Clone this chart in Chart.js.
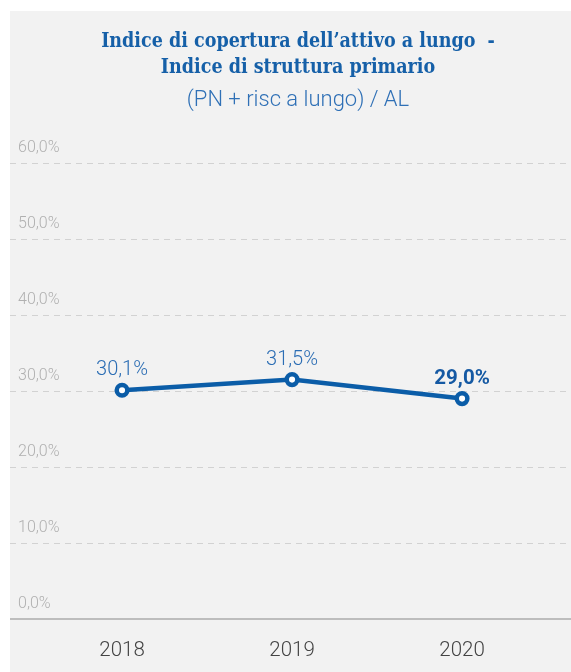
<!DOCTYPE html>
<html>
<head>
<meta charset="utf-8">
<script src="https://cdn.jsdelivr.net/npm/chart.js@4.4.1/dist/chart.umd.min.js"></script>
<style>
  html, body { margin: 0; padding: 0; background: #fff; overflow: hidden; }
  #box {
    position: absolute; left: 10px; top: 11px;
    width: 576px; height: 661px;
    background: #f2f2f2;
  }
</style>
</head>
<body>
<div id="box"><canvas id="myChart" width="576" height="661"></canvas></div>
<script>
const anni = ['2018', '2019', '2020'];
const indice = [30.1, 31.5, 29.0];
const boldLabel = [false, false, true];

const blu = '#0b5da8';

function fmtPerc(v) {
    return v.toFixed(1).replace('.', ',') + '%';
}

// etichette dei valori sopra ai punti
const valueLabels = {
    id: 'valueLabels',
    afterDatasetsDraw(chart) {
        const c = chart.ctx;
        const meta = chart.getDatasetMeta(0);
        c.save();
        c.textAlign = 'center';
        c.textBaseline = 'alphabetic';
        meta.data.forEach((pt, i) => {
            if (boldLabel[i]) {
                c.font = 'bold 20.5px Roboto';
                c.fillStyle = '#1559a3';
            } else {
                c.font = '300 20px Roboto';
                c.fillStyle = '#2b6db4';
            }
            c.fillText(fmtPerc(indice[i]), pt.x, pt.y - 15);
        });
        c.restore();
    }
};

const ctx = document.getElementById('myChart');

theChart = new Chart(ctx, {
    type: 'line',
    data: {
        datasets: [{
            label: 'indice',
            data: indice.map((v, i) => ({x: i, y: v})),
            borderColor: blu,
            borderWidth: 4.5,
            pointRadius: 5.3,
            pointBorderWidth: 4.5,
            pointBackgroundColor: '#ffffff',
            pointBorderColor: blu,
            tension: 0
        }]
    },
    options: {
        responsive: false,
        animation: false,
        layout: { autoPadding: false, padding: { left: 0, right: 0, top: 0, bottom: -11 } },
        plugins: {
            legend: { display: false },
            tooltip: { enabled: false },
            title: {
                display: true,
                text: ['Indice di copertura dell\u2019attivo a lungo  -', 'Indice di struttura primario'],
                color: '#1660a8',
                font: { family: "'DejaVu Serif Condensed', 'DejaVu Serif', serif", size: 19.5, weight: 'bold', lineHeight: '26px' },
                padding: { top: 18, bottom: 5 }
            },
            subtitle: {
                display: true,
                text: '(PN + risc a lungo) / AL',
                color: '#2f70b6',
                font: { family: 'Roboto', size: 22, weight: '300', lineHeight: '28px' },
                padding: { top: 0, bottom: 49 }
            }
        },
        scales: {
            x: {
                type: 'linear',
                min: -0.659,
                max: 2.729,
                afterBuildTicks: (scale) => {
                    scale.ticks = anni.map((a, i) => ({ value: i }));
                },
                grid: { display: false, drawTicks: false },
                border: { display: true, color: '#bdbdbd', width: 2 },
                ticks: {
                    padding: 0,
                    color: '#444444',
                    // interlinea alta per staccare gli anni dall'asse
                    font: { family: 'Roboto', size: 20.5, weight: '300', lineHeight: '64px' },
                    callback: (v) => anni[v]
                }
            },
            y: {
                min: 0,
                max: 60,
                // etichette dentro l'area: l'asse non occupa spazio
                afterFit: (scale) => {
                    scale.width = 0;
                },
                grid: {
                    drawTicks: false,
                    color: (c) => (c.tick && c.tick.value === 0) ? 'rgba(0,0,0,0)' : '#d2d2d2',
                    lineWidth: 1
                },
                border: { display: false, dash: [6, 5] },
                ticks: {
                    stepSize: 10,
                    mirror: true,
                    padding: 8,
                    labelOffset: -15,
                    color: '#b0b0b0',
                    font: { family: 'Roboto', size: 16, weight: '300' },
                    callback: (v) => fmtPerc(v)
                }
            }
        }
    },
    plugins: [valueLabels]
});
</script>
</body>
</html>
